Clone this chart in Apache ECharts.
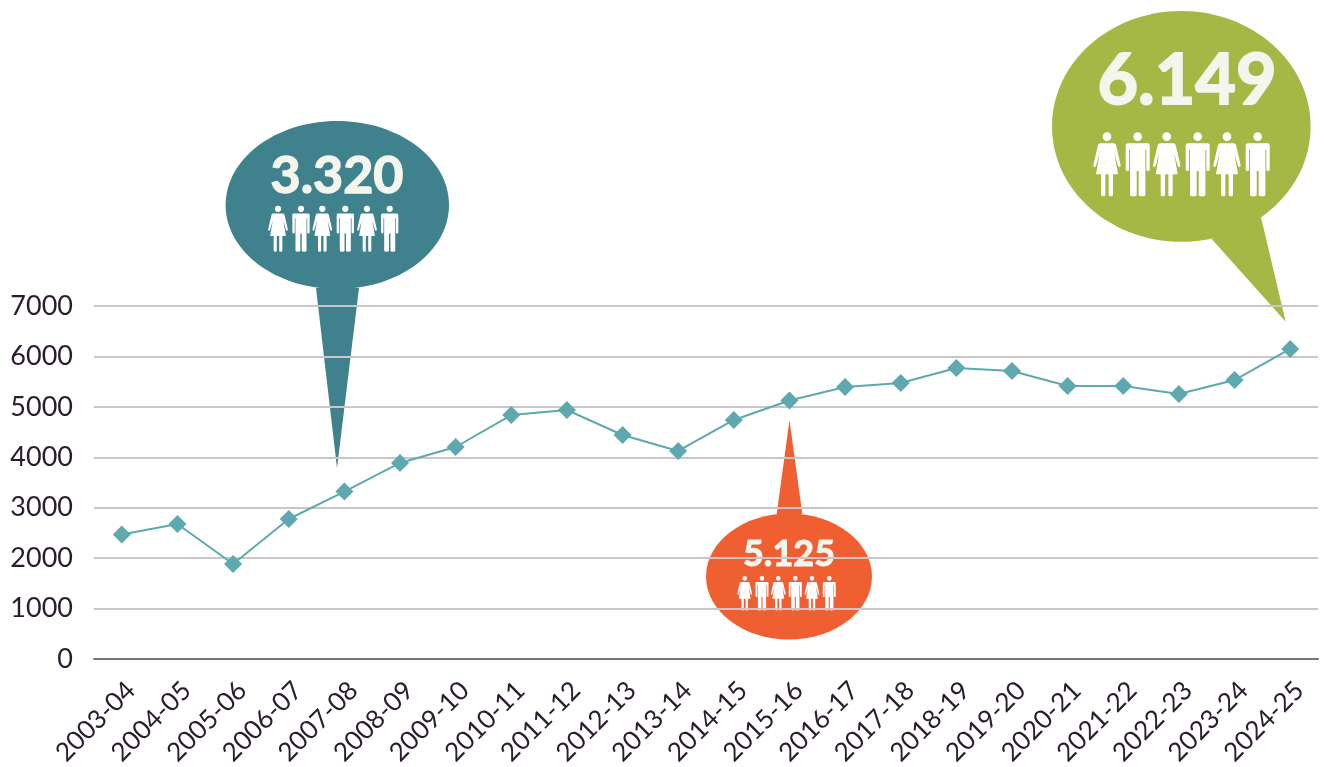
<!DOCTYPE html>
<html>
<head>
<meta charset="utf-8">
<style>
  html, body { margin: 0; padding: 0; background: #fff; }
  #main { width: 1325px; height: 767px; }
</style>
<script src="https://cdn.jsdelivr.net/npm/echarts@6/dist/echarts.min.js"></script>
</head>
<body>
<div id="main"></div>
<script>
const years = ['2003-04','2004-05','2005-06','2006-07','2007-08','2008-09','2009-10','2010-11','2011-12','2012-13','2013-14','2014-15','2015-16','2016-17','2017-18','2018-19','2019-20','2020-21','2021-22','2022-23','2023-24','2024-25'];
const students = [2470,2677,1884,2776,3320,3887,4204,4838,4937,4442,4125,4740,5125,5394,5473,5770,5711,5413,5413,5255,5532,6149];
const yTicks = [0,1000,2000,3000,4000,5000,6000,7000];
const calloutLabels = ['3.320','5.125','6.149'];

const textFont = 'Lato, sans-serif';

// pictogram outlines, origin at top centre, 192 units tall
const womanPath = 'M-20 33H20Q25 33 27 38L41 98Q42 104 37 104Q34 104 33 100L22 62L33 126H18V188Q18 192 12 192Q5 192 5 188V126H-5V188Q-5 192 -11 192Q-18 192 -18 188V126H-33L-22 62L-33 100Q-34 104 -37 104Q-42 104 -41 98L-27 38Q-25 33 -20 33Z M13 13A13 13 0 1 1 -13 13A13 13 0 1 1 13 13Z';
const manPath = 'M-30 33H30Q36 33 36 39V112Q36 116 31 116Q26 116 26 112V52H23V188Q23 192 13 192Q3 192 3 188V116H-3V188Q-3 192 -13 192Q-23 192 -23 188V52H-26V112Q-26 116 -31 116Q-36 116 -36 112V39Q-36 33 -30 33Z M13 13A13 13 0 1 1 -13 13A13 13 0 1 1 13 13Z';
echarts.graphic.registerShape('woman', echarts.graphic.extendPath(womanPath, {}));
echarts.graphic.registerShape('man', echarts.graphic.extendPath(manPath, {}));

function bubble(label, c) {
  const kids = [
    { type: 'ellipse', shape: { cx: c.cx, cy: c.cy, rx: c.rx, ry: c.ry }, style: { fill: c.color } },
    { type: 'polygon', shape: { points: c.tail }, style: { fill: c.color } },
    { type: 'text', style: { text: label, x: c.tx, y: c.ty, align: 'center', verticalAlign: 'middle', fill: '#f4f5ec', stroke: '#f4f5ec', lineWidth: c.fontSize / 36, font: 'bold ' + c.fontSize + 'px ' + textFont } }
  ];
  c.people.forEach((x, i) => {
    kids.push({
      type: i % 2 ? 'man' : 'woman',
      x: x, y: c.peopleY, scaleX: c.scale, scaleY: c.scale,
      style: { fill: '#fff' }
    });
  });
  return { type: 'group', z: 100, children: kids };
}

const bubbles = [
  bubble(calloutLabels[0], { color: '#3f818c', cx: 337.3, cy: 205, rx: 111.7, ry: 84,
    tail: [[316,288],[337,468],[359,288]], tx: 337, ty: 176, fontSize: 52,
    people: [278,301,322.3,345.3,367,389.7], peopleY: 205.7, scale: 0.24 }),
  bubble(calloutLabels[1], { color: '#f05f32', cx: 789, cy: 576.5, rx: 83, ry: 63,
    tail: [[776.7,514],[789.5,420],[802.3,514]], tx: 789, ty: 554, fontSize: 36,
    people: [744.7,762,778.3,795.3,812,829.3], peopleY: 576, scale: 0.18 }),
  bubble(calloutLabels[2], { color: '#a5b846', cx: 1181.3, cy: 126.4, rx: 129.3, ry: 115.3,
    tail: [[1211.7,239],[1285.7,321.7],[1261,217.3]], tx: 1187, ty: 81, fontSize: 70,
    people: [1107,1137.7,1166.7,1197.7,1227,1257.7], peopleY: 132.3, scale: 0.3333 })
];

const myChart = echarts.init(document.getElementById('main'), null, { renderer: 'canvas' });
myChart.setOption({
  animation: false,
  grid: { left: 94, right: 7, top: 306, bottom: 108, outerBoundsMode: 'none' },
  xAxis: {
    type: 'category',
    data: years,
    axisLine: { lineStyle: { color: '#7b717d', width: 2 } },
    axisTick: { show: false },
    axisLabel: { interval: 0, rotate: 45, margin: 18, verticalAlign: 'top', color: '#2a1c2e', fontSize: 26, fontFamily: textFont }
  },
  yAxis: {
    type: 'value',
    min: yTicks[0],
    max: yTicks[yTicks.length - 1],
    interval: yTicks[1] - yTicks[0],
    axisLine: { show: false },
    axisTick: { show: false },
    axisLabel: { margin: 21, padding: [3, 0, 0, 0], color: '#2a1c2e', fontSize: 27, fontFamily: textFont, formatter: v => String(v) },
    splitLine: { lineStyle: { color: '#c9c5c9', width: 2 } }
  },
  series: [{
    type: 'line',
    data: students,
    symbol: 'diamond',
    symbolSize: 18,
    itemStyle: { color: '#5da9af' },
    lineStyle: { color: '#5da9af', width: 2 }
  }],
  graphic: bubbles
});
</script>
</body>
</html>
